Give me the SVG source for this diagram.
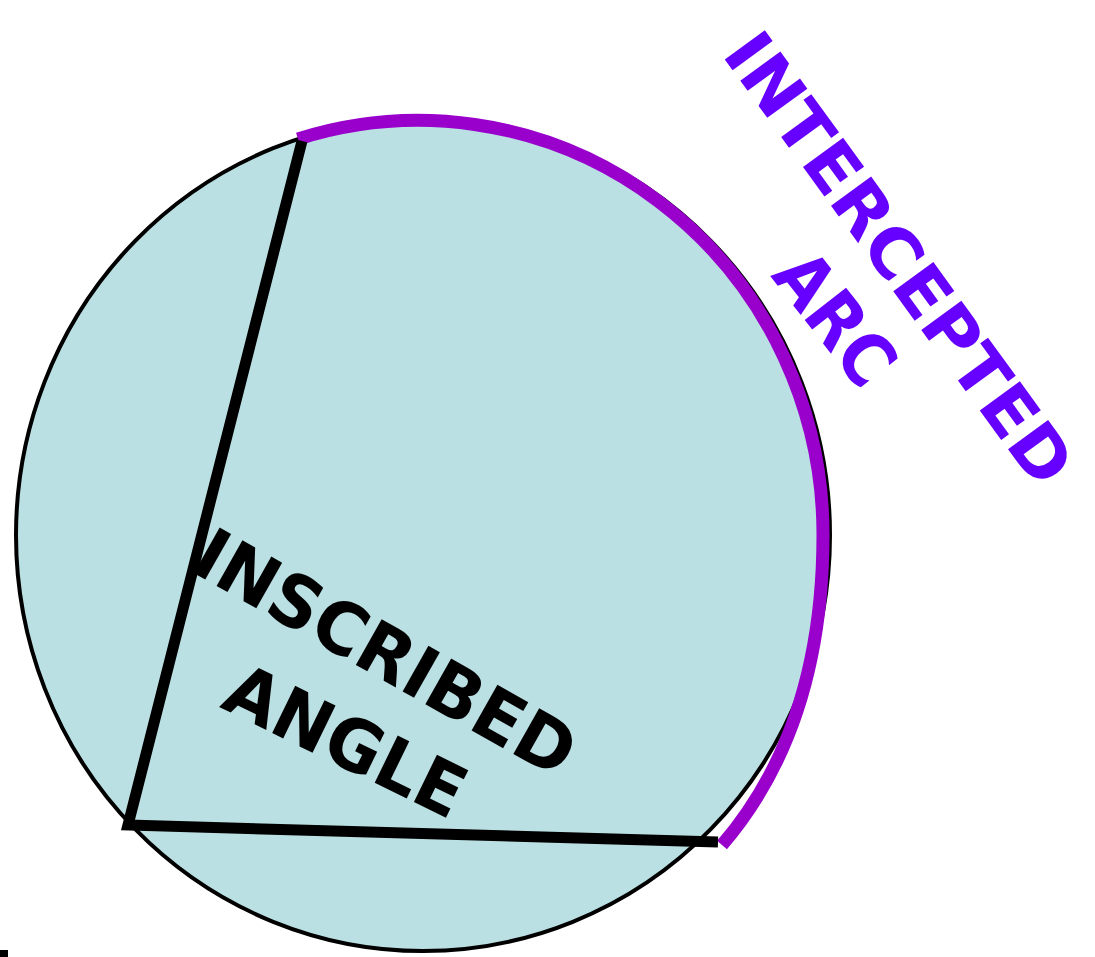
<svg xmlns="http://www.w3.org/2000/svg" width="1095" height="957" viewBox="0 0 1095 957">
<style>
.lbl{font-family:"DejaVu Sans","Liberation Sans",sans-serif;font-weight:bold;font-size:72px;text-anchor:middle}
.blk{fill:#000}
.pur{fill:#6600FF}
</style>
<rect width="1095" height="957" fill="#ffffff"/>
<g id="circle">
<ellipse cx="423" cy="535" rx="407" ry="416" fill="#BAE0E3" stroke="#000" stroke-width="4"/>
</g>
<g id="connectors">
<path d="M 298 139 A 405 414 0 0 1 823 535 C 823 650 795 760 722 845" fill="none" stroke="#9900CC" stroke-width="13"/>
<polyline points="302,141 128,825 718,842" fill="none" stroke="#000" stroke-width="11" stroke-linejoin="miter"/>
</g>
<g id="inscribed-label">
<text class="lbl blk" transform="translate(386,652) rotate(29.5)" x="0" y="26" textLength="425" lengthAdjust="spacingAndGlyphs">INSCRIBED</text>
<text class="lbl blk" transform="translate(346,740) rotate(26)" x="0" y="26" textLength="258" lengthAdjust="spacingAndGlyphs">ANGLE</text>
</g>
<g id="intercepted-label">
<text class="lbl pur" style="font-size:68px" transform="translate(900,258) rotate(54)" x="0" y="25" textLength="540" lengthAdjust="spacingAndGlyphs">INTERCEPTED</text>
<text class="lbl pur" transform="translate(836,318) rotate(52)" x="0" y="26" textLength="148" lengthAdjust="spacingAndGlyphs">ARC</text>
</g>
<rect x="0" y="950" width="8" height="7" fill="#000"/>
</svg>
